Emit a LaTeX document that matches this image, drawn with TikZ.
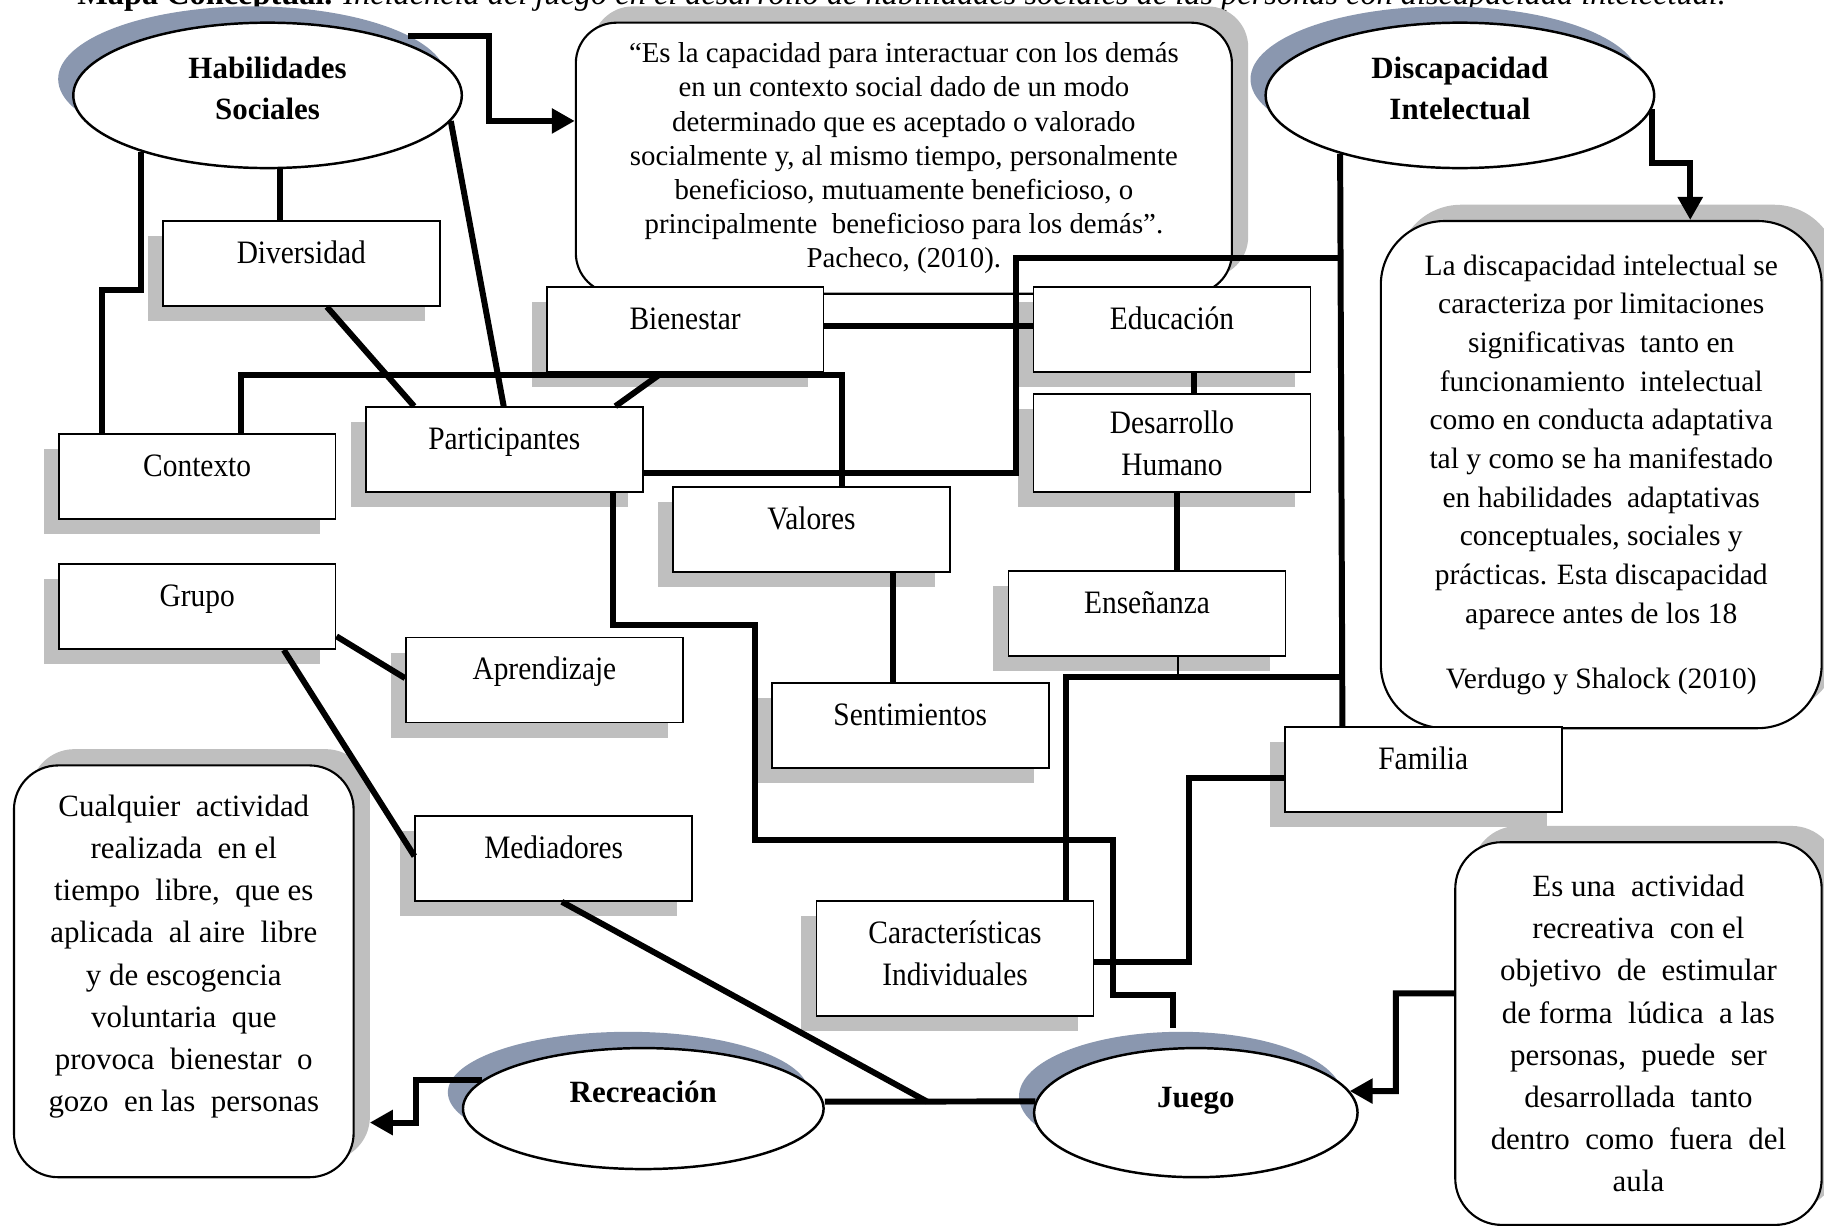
\documentclass[tikz,border=0pt]{standalone}
\usepackage{fontspec}
\setmainfont{Liberation Serif}
\newfontfamily\narrowfont{Liberation Serif}[FakeStretch=0.9]
\usetikzlibrary{calc,shapes.geometric,shadows,arrows.meta}

\newlength\pxu
\setlength\pxu{0.11633mm}

\definecolor{shadowgray}{RGB}{191,191,191}
\definecolor{shadowblue}{RGB}{138,151,175}

\tikzset{
  concept/.style={ellipse, draw, line width=0.7pt, fill=white, inner sep=0pt,
    minimum width=334\pxu, minimum height=125\pxu, align=center,
    font=\fontsize{8.8}{11.9}\selectfont\bfseries,
    drop shadow={shadow xshift=-13\pxu, shadow yshift=14\pxu, fill=shadowblue, opacity=1}},
  topicbase/.style={rectangle, draw, line width=0.5pt, fill=white,
    minimum width=238\pxu, minimum height=73\pxu, inner sep=0pt,
    font=\narrowfont\fontsize{9.3}{12}\selectfont,
    drop shadow={shadow xshift=-13\pxu, shadow yshift=-13\pxu, fill=shadowgray, opacity=1}},
  topic/.style={topicbase, text height=1.5ex, text depth=1.5ex},
  topictwo/.style={topicbase, align=center},
  defbox/.style={rectangle, draw, line width=0.6pt, fill=white, rounded corners=#1,
    inner sep=0pt, align=center,
    drop shadow={shadow xshift=14\pxu, shadow yshift=14\pxu, fill=shadowgray, opacity=1}},
  link/.style={line width=1.7pt},
  thinlink/.style={line width=0.6pt},
  arrowlink/.style={link, -{Triangle[length=2.3mm, width=2.4mm]}}
}

\begin{document}
\begin{tikzpicture}[x=\pxu, y=-\pxu]

\useasboundingbox (0,0) rectangle (1568,1056);

% Title (cut off at the top)
\node[anchor=base west, inner sep=0pt, font=\fontsize{9.2}{11}\selectfont] (caption) at (66,3.5)
  {\textbf{Mapa Conceptual.} \textit{Incidencia del juego en el desarrollo de habilidades sociales de las personas con discapacidad intelectual.}};

% Definition boxes
\node[defbox=35\pxu, minimum width=564\pxu, minimum height=233\pxu,
  font=\fontsize{8.2}{9.7}\selectfont] (quote) at (777,136)
  {“Es la capacidad para interactuar con los demás\\
   en un contexto social dado de un modo\\
   determinado que es aceptado o valorado\\
   socialmente y, al mismo tiempo, personalmente\\
   beneficioso, mutuamente beneficioso, o\\
   principalmente\ \ beneficioso para los demás”.\\
   Pacheco, (2010).};

\node[defbox=55\pxu, minimum width=379\pxu, minimum height=436\pxu,
  font=\fontsize{8.4}{11}\selectfont] (didef) at (1376.5,408)
  {La discapacidad intelectual se\\
   caracteriza por limitaciones\\
   significativas\ \ tanto en\\
   funcionamiento\ \ intelectual\\
   como en conducta adaptativa\\
   tal y como se ha manifestado\\
   en habilidades\ \ adaptativas\\
   conceptuales, sociales y\\
   prácticas. Esta discapacidad\\
   aparece antes de los 18\\[7.5pt]
   Verdugo y Shalock (2010)};

\node[defbox=38\pxu, minimum width=292\pxu, minimum height=354\pxu,
  font=\fontsize{8.8}{12}\selectfont] (recdef) at (158,835)
  {Cualquier\ \ actividad\\
   realizada\ \ en el\\
   tiempo\ \ libre,\ \ que es\\
   aplicada\ \ al aire\ \ libre\\
   y de escogencia\\
   voluntaria\ \ que\\
   provoca\ \ bienestar\ \ o\\
   gozo\ \ en las\ \ personas\rule[-10.3pt]{0pt}{10.3pt}};

\node[defbox=40\pxu, minimum width=315\pxu, minimum height=329\pxu,
  font=\fontsize{8.8}{12}\selectfont] (juegodef) at (1408.5,888.5)
  {Es una\ \ actividad\\
   recreativa\ \ con el\\
   objetivo\ \ de\ \ estimular\\
   de forma\ \ lúdica\ \ a las\\
   personas,\ \ puede\ \ ser\\
   desarrollada\ \ tanto\\
   dentro\ \ como\ \ fuera\ \ del\\
   aula};

% Main concepts
\node[concept] (habil) at (230,82) {Habilidades\\Sociales\rule[-4pt]{0pt}{4pt}};
\node[concept] (discap) at (1255,82) {Discapacidad\\Intelectual\rule[-4pt]{0pt}{4pt}};
\node[concept, minimum width=310\pxu, minimum height=104\pxu,
  text height=1.5ex, text depth=2.2ex] (recre) at (553,953) {Recreación};
\node[concept, minimum width=278\pxu, minimum height=111\pxu,
  text height=1.5ex, text depth=2.2ex] (juego) at (1028,956.5) {Juego};

% Topic boxes
\node[topic] (divers) at (259,226.5) {Diversidad};
\node[topic] (bienes) at (589,283.5) {Bienestar};
\node[topic] (educ) at (1007.5,283) {Educación};
\node[topic] (contex) at (169.5,409.5) {Contexto};
\node[topic] (partic) at (433.5,386.5) {Participantes};
\node[topictwo, minimum height=84\pxu] (desarr) at (1007.5,381) {Desarrollo\\Humano};
\node[topic] (valores) at (697.5,455) {Valores};
\node[topic] (grupo) at (169.5,521.5) {Grupo};
\node[topic] (ensen) at (986,527.5) {Enseñanza};
\node[topic] (aprend) at (468,584.5) {Aprendizaje};
\node[topic] (sentim) at (782.5,623.5) {Sentimientos};
\node[topic] (famil) at (1223.5,661.5) {Familia};
\node[topic] (mediad) at (476,738) {Mediadores};
\node[topictwo, minimum height=99\pxu] (caract) at (821,824) {Características\\Individuales\rule[-3pt]{0pt}{3pt}};

% Junction points
\coordinate (cv) at (567,322);
\coordinate (pd) at (1154,222);
\coordinate (ef) at (1013,582);
\coordinate (df) at (1154,582);
\coordinate (rj) at (797,947);

% Habilidades Sociales
\draw[arrowlink] (habil.20 |- 0,31) -| (420,104) -- (quote.west |- 0,104);
\draw[link] (habil.south -| 241,0) -- (divers.north -| 241,0);
\draw[link] (habil.204) |- (88,249) -- (contex.north -| 88,0);
\draw[link] (habil.-8) -- (partic.north -| 433,0);
\draw[link] (divers.south -| 281,0) -- (partic.north -| 356,0);

% Contexto, Participantes, Valores
\draw[link] (contex.north -| 207,0) |- (724,322) -- (valores.north -| 724,0);
\draw[link] (cv) -- (partic.north -| 529,0);
\draw[link] (partic.east |- 0,407) -| (873,222) -- (pd);
\draw[link] (partic.south -| 527,0) |- (649,537) |- (957,722) |- (1008,855)
  -- ([yshift=16\pxu]juego.north -| 1008,0);

% Discapacidad Intelectual
\draw[arrowlink] (discap.-4) |- (1453,140) -- (didef.north -| 1453,0);
\draw[link] (discap.206) -- (famil.north -| 1154,0);
\draw[link] (bienes.east |- 0,280) -- (educ.west |- 0,280);
\draw[link] (educ.south -| 1026,0) -- (desarr.north -| 1026,0);
\draw[link] (desarr.south -| 1012,0) -- (ensen.north -| 1012,0);
\draw[thinlink] (ensen.south -| 1013,0) -- (ef);
\draw[link] (caract.north -| 916,0) |- (df);
\draw[link] (caract.east |- 0,827) -| (1022,669) -- (famil.west |- 0,669);
\draw[link] (valores.south -| 768,0) -- (sentim.north -| 768,0);

% Grupo
\draw[link] (grupo.east |- 0,547) -- (aprend.west |- 0,583);
\draw[link] (grupo.south -| 244,0) -- (mediad.west |- 0,736);
\draw[link] (mediad.south -| 483,0) -- (rj);

% Recreacion y Juego
\draw[link] (recre.east |- 0,947) -- (juego.176);
\draw[arrowlink, shorten >=13\pxu] (recre.170) -| (358,965) -- (recdef.east |- 0,965);
\draw[arrowlink] (juegodef.west |- 0,854) -| (1200,938) -- (juego.8);

\end{tikzpicture}
\end{document}
